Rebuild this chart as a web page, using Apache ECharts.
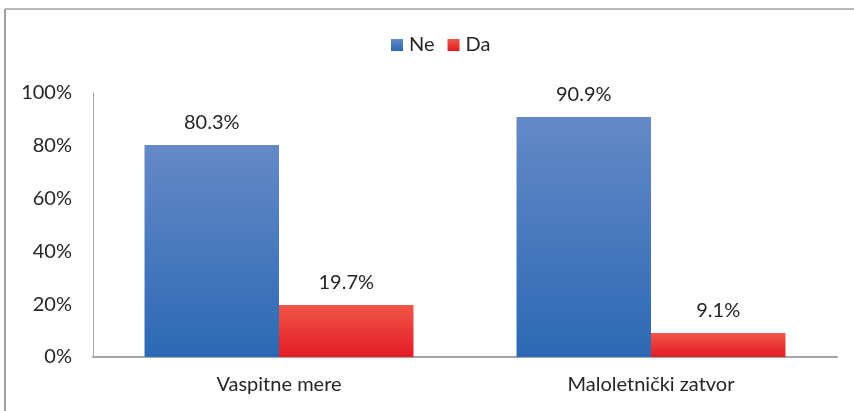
<!DOCTYPE html>
<html><head><meta charset="utf-8">
<script src="https://cdn.jsdelivr.net/npm/echarts@6/dist/echarts.min.js"></script>
<style>html,body{margin:0;padding:0;background:#fff}#c{width:854px;height:411px}</style>
</head><body><div id="c"></div>
<script>
const categories = ['Vaspitne mere', 'Maloletnički zatvor'];
const seriesNames = ['Ne', 'Da'];
const neValues = [80.3, 90.9];
const daValues = [19.7, 9.1];
const yTicks = [0, 20, 40, 60, 80, 100];

const FONT = 'Lato, "Open Sans", sans-serif';
const FS = 20;
const chart = echarts.init(document.getElementById('c'));
function grad(top, bottom){
  return new echarts.graphic.LinearGradient(0,0,0,1,[{offset:0,color:top},{offset:1,color:bottom}]);
}
const labelCfg = {show:true, position:'top', distance:12, color:'#262626', fontSize:FS, fontFamily:FONT, formatter: p => p.value.toFixed(1) + '%'};
chart.setOption({
  animation:false,
  legend:{top:30, left:386, itemWidth:12, itemHeight:12, itemGap:13, icon:'rect',
    textStyle:{fontSize:FS, fontFamily:FONT, color:'#262626', padding:[0,0,0,1]}, data:seriesNames},
  grid:{left:93, right:17, top:93, bottom:54, containLabel:false},
  xAxis:{type:'category', data:categories, axisTick:{show:false},
    axisLine:{lineStyle:{color:'#a6a6a6', width:2}},
    axisLabel:{fontSize:FS, fontFamily:FONT, color:'#262626', margin:18}},
  yAxis:{type:'value', min:yTicks[0], max:yTicks[yTicks.length-1], interval:20,
    axisLine:{show:true, lineStyle:{color:'#a6a6a6', width:1}}, axisTick:{show:false},
    splitLine:{show:false},
    axisLabel:{fontSize:FS, fontFamily:FONT, color:'#262626', margin:21, formatter: v => v + '%'}},
  graphic:[
    {type:'line', shape:{x1:5, y1:9, x2:854, y2:9}, style:{stroke:'#b8b8b8', lineWidth:2}},
    {type:'line', shape:{x1:5, y1:9, x2:5, y2:411}, style:{stroke:'#a0a0a0', lineWidth:2}}
  ],
  series:[
    {name:seriesNames[0], type:'bar', data:neValues, barGap:'0%', barCategoryGap:'27.7%',
      itemStyle:{color:grad('#6589c7','#2c69b4')}, label:labelCfg},
    {name:seriesNames[1], type:'bar', data:daValues,
      itemStyle:{color:grad('#f0564a','#e31b23')}, label:labelCfg}
  ]
});
</script></body></html>
